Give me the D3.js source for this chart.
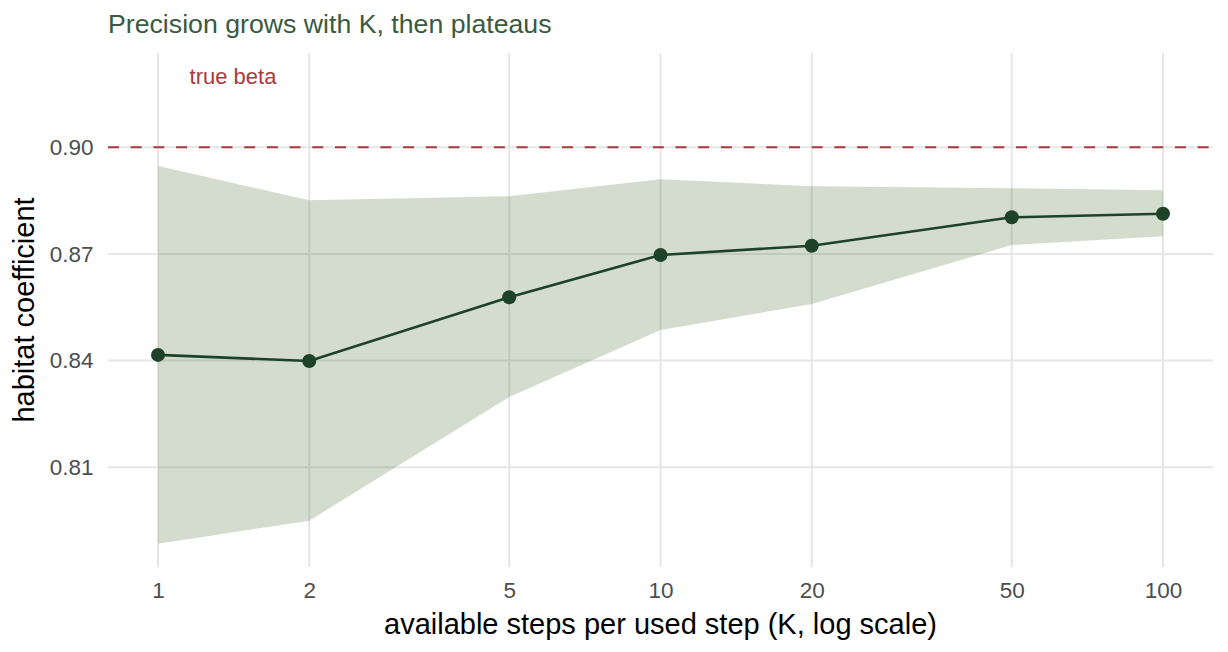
<!DOCTYPE html>
<html>
<head>
<meta charset="utf-8">
<script src="https://cdn.jsdelivr.net/npm/d3@7"></script>
<style>
  html, body { margin: 0; padding: 0; background: #ffffff; }
  svg { display: block; font-family: "Liberation Sans", Arial, Helvetica, sans-serif; }
</style>
</head>
<body>
<svg id="chart" width="1228" height="652"></svg>
<script>
// ---- data ----
const kValues   = [1, 2, 5, 10, 20, 50, 100];
const estimate  = [0.8416, 0.8399, 0.8578, 0.8697, 0.8723, 0.8803, 0.8813];
const upper     = [0.8947, 0.8851, 0.8862, 0.8910, 0.8890, 0.8885, 0.8879];
const lower     = [0.7885, 0.7950, 0.8298, 0.8486, 0.8559, 0.8725, 0.8750];
const xTicks    = [1, 2, 5, 10, 20, 50, 100];
const yTicks    = [0.81, 0.84, 0.87, 0.90];
const trueBeta  = 0.90;
const labelPos  = { k: 1.41, v: 0.92 };

const titleText = "Precision grows with K, then plateaus";
const xTitle    = "available steps per used step (K, log scale)";
const yTitle    = "habitat coefficient";

// ---- layout ----
const svg = d3.select("#chart");
const panel = { left: 108, right: 1213, top: 53, bottom: 567 };

const x = d3.scaleLog().domain([1, 100]).range([158, 1163]);
const y = d3.scaleLinear().domain([0.78196, 0.9265]).range([panel.bottom, panel.top]);

const data = kValues.map((k, i) => ({ k, est: estimate[i], lo: lower[i], hi: upper[i] }));

// grid
const grid = svg.append("g");
grid.selectAll("line.h").data(yTicks).enter().append("line")
  .attr("x1", panel.left).attr("x2", panel.right)
  .attr("y1", d => y(d)).attr("y2", d => y(d))
  .attr("stroke", "#e6e6e6").attr("stroke-width", 2);
grid.selectAll("line.v").data(xTicks).enter().append("line")
  .attr("x1", d => x(d)).attr("x2", d => x(d))
  .attr("y1", panel.top).attr("y2", panel.bottom)
  .attr("stroke", "#e6e6e6").attr("stroke-width", 2);

// ribbon
const area = d3.area().x(d => x(d.k)).y0(d => y(d.lo)).y1(d => y(d.hi));
svg.append("path").datum(data).attr("d", area)
  .attr("fill", "#4f7337").attr("fill-opacity", 0.25);

// true beta line
svg.append("line")
  .attr("x1", panel.left).attr("x2", panel.right)
  .attr("y1", y(trueBeta)).attr("y2", y(trueBeta))
  .attr("stroke", "#a83a3a").attr("stroke-width", 2.2)
  .attr("stroke-dasharray", "11,11.7");

svg.append("text")
  .attr("x", x(labelPos.k)).attr("y", y(labelPos.v))
  .attr("text-anchor", "middle").attr("dominant-baseline", "central")
  .attr("fill", "#a83a3a").attr("font-size", 22)
  .text("true beta");

// line + points
const line = d3.line().x(d => x(d.k)).y(d => y(d.est));
svg.append("path").datum(data).attr("d", line)
  .attr("fill", "none").attr("stroke", "#1e4228").attr("stroke-width", 2.6);
svg.selectAll("circle.pt").data(data).enter().append("circle")
  .attr("cx", d => x(d.k)).attr("cy", d => y(d.est)).attr("r", 7)
  .attr("fill", "#1e4228");

// axes (text only, like theme_minimal)
const xAxis = d3.axisBottom(x).tickValues(xTicks).tickFormat(d3.format("d")).tickSize(0).tickPadding(0);
const gx = svg.append("g").attr("transform", `translate(0,${panel.bottom})`).call(xAxis);
gx.select(".domain").remove();
gx.selectAll("text").attr("font-size", 22.5).attr("fill", "#4d4d4d")
  .attr("font-family", "Liberation Sans, Arial, sans-serif")
  .attr("dy", null).attr("y", 31);

const yAxis = d3.axisLeft(y).tickValues(yTicks).tickFormat(d3.format(".2f")).tickSize(0).tickPadding(0);
const gy = svg.append("g").attr("transform", `translate(93.5,0)`).call(yAxis);
gy.select(".domain").remove();
gy.selectAll("text").attr("font-size", 22.5).attr("fill", "#4d4d4d")
  .attr("font-family", "Liberation Sans, Arial, sans-serif");

// titles
svg.append("text").attr("x", 108).attr("y", 33)
  .attr("font-size", 26.7).attr("fill", "#3a5a40").text(titleText);

svg.append("text").attr("x", (panel.left + panel.right) / 2).attr("y", 634)
  .attr("text-anchor", "middle").attr("font-size", 29).attr("fill", "#000")
  .text(xTitle);

svg.append("text")
  .attr("transform", `translate(34,${(panel.top + panel.bottom) / 2}) rotate(-90)`)
  .attr("text-anchor", "middle").attr("font-size", 29).attr("fill", "#000")
  .text(yTitle);
</script>
</body>
</html>
